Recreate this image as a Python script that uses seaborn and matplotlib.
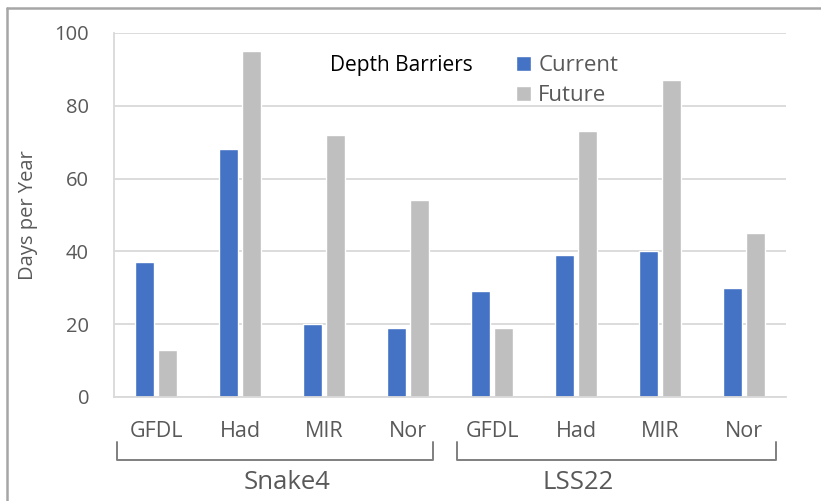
import matplotlib
matplotlib.use("Agg")
import matplotlib.pyplot as plt
import seaborn as sns
import pandas as pd
from matplotlib.lines import Line2D
from matplotlib.patches import Patch

# Data
sites = ["Snake4", "LSS22"]
models = ["GFDL", "Had", "MIR", "Nor"]
current = [37, 68, 20, 19, 29, 39, 40, 30]
future = [13, 95, 72, 54, 19, 73, 87, 45]
series = ["Current", "Future"]

slots = [f"{s} {m}" for s in sites for m in models]
df = pd.DataFrame({
    "slot": slots * 2,
    "series": [series[0]] * len(slots) + [series[1]] * len(slots),
    "days": current + future,
})

sns.set_theme(style="white")
plt.rcParams["font.family"] = ["Open Sans", "DejaVu Sans"]

TXT = "#595959"
fig = plt.figure(figsize=(8.21, 5.01), dpi=100)
ax = fig.add_axes([114 / 821, 1 - 397 / 501, 672 / 821, 364 / 501])

sns.barplot(data=df, x="slot", y="days", hue="series", order=slots,
            hue_order=series, palette=["#4472C4", "#BFBFBF"],
            width=0.55, gap=0.16, ax=ax, legend=False, saturation=1)

ax.set_ylim(0, 100)
ax.set_xlim(-0.5, len(slots) - 0.5)
ax.set_yticks(range(0, 101, 20))
ax.yaxis.grid(True, color="#D9D9D9", linewidth=1.3)
ax.set_axisbelow(True)
for side in ["top", "right"]:
    ax.spines[side].set_visible(False)
ax.spines["left"].set_color("#D9D9D9")
ax.spines["bottom"].set_color("#D9D9D9")
ax.spines["left"].set_linewidth(1.3)
ax.spines["bottom"].set_linewidth(1.3)

ax.set_xticks(range(len(slots)))
ax.set_xticklabels(models * len(sites))
ax.tick_params(axis="x", length=0, pad=17, labelsize=15.5, labelcolor=TXT)
ax.tick_params(axis="y", length=0, pad=18, labelsize=14.5, labelcolor=TXT)
ax.set_xlabel("")
ax.set_ylabel("Days per Year", fontsize=14.5, color=TXT)
ax.yaxis.set_label_coords(-0.113, 0.5)

# Group brackets under the category labels
tr = ax.get_xaxis_transform()
brackets = [(-0.464, 3.298), (3.583, 7.381)]
label_x = [1.56, 5.02]
for (x0, x1), lx, name in zip(brackets, label_x, sites):
    ax.plot([x0, x0, x1, x1], [-0.124, -0.173, -0.173, -0.124], transform=tr,
            color="#7F7F7F", lw=1.4, clip_on=False)
    ax.text(lx, -0.234, name, transform=tr, ha="center", va="center",
            fontsize=18.5, color=TXT)

# Title and legend inside the plot area
fig.text(401 / 821, 1 - 65 / 501, "Depth Barriers", ha="center", va="center",
         fontsize=15, color="black")
handles = [Patch(facecolor="#4472C4"), Patch(facecolor="#BFBFBF")]
leg = fig.legend(handles, series, loc="upper left",
                 bbox_to_anchor=(505 / 821, 1 - 44 / 501), frameon=False,
                 fontsize=16, handlelength=0.65, handleheight=0.65,
                 handletextpad=0.35, labelspacing=0.4, borderpad=0)
for t in leg.get_texts():
    t.set_color(TXT)

# Outer chart frame (top and left edges)
fig.add_artist(Line2D([7 / 821, 1], [1 - 8 / 501, 1 - 8 / 501],
                      transform=fig.transFigure, color="#A6A6A6", lw=1.8))
fig.add_artist(Line2D([7 / 821, 7 / 821], [0, 1 - 8 / 501],
                      transform=fig.transFigure, color="#A6A6A6", lw=1.8))

fig.savefig("out.png", dpi=100)
